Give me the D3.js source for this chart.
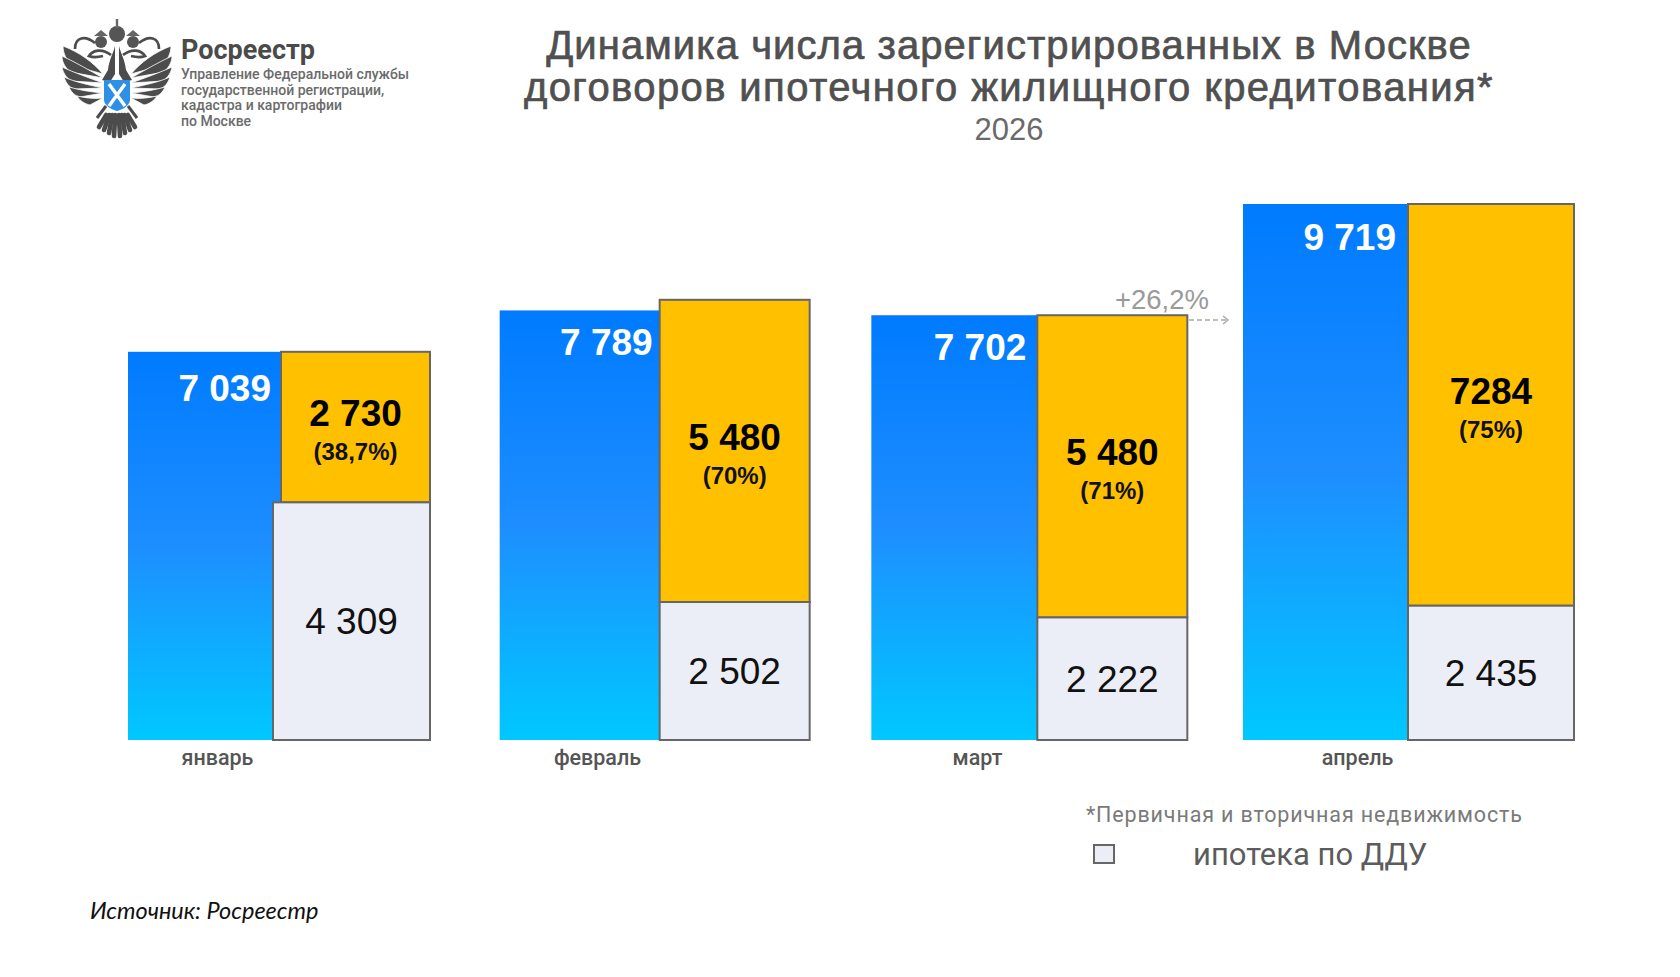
<!DOCTYPE html>
<html lang="ru">
<head>
<meta charset="utf-8">
<title>Динамика договоров ипотечного жилищного кредитования</title>
<script src="https://cdn.jsdelivr.net/npm/d3@7/dist/d3.min.js"></script>
<style>
  html, body { margin: 0; background: #fff; }
  svg { display: block; }
  text { font-family: "Liberation Sans", Arial, sans-serif; }
</style>
</head>
<body>
<svg id="chart" width="1680" height="977"></svg>
<script>
// Monthly registrations; segment values are the ones printed on each bar.
const months = ["январь", "февраль", "март", "апрель"];
const totals = [7039, 7789, 7702, 9719];
const totalLabels = ["7 039", "7 789", "7 702", "9 719"];
const dduValues = [4309, 2502, 2222, 2435];
const dduLabels = ["4 309", "2 502", "2 222", "2 435"];
const otherValues = [2730, 5480, 5480, 7284];
const otherLabels = ["2 730", "5 480", "5 480", "7284"];
const shareLabels = ["(38,7%)", "(70%)", "(71%)", "(75%)"];

// Horizontal placement of the overlapping boxes, relative to each blue bar.
const blueWidth = 206;
const otherStart = [153, 160, 166, 165];
const dduStart = [145, 160, 166, 165];
const boxEnd = [302, 310, 316, 331];
const totalLabelEnd = [143, 153, 155, 153];
const totalLabelDrop = [49, 45, 45, 46];

const svg = d3.select("#chart");
const baseY = 740;

const y = d3.scaleLinear().domain([0, 9719]).range([baseY, 204]);
const xBar = d3.scalePoint().domain(months).range([128, 1243]);
const xAxis = d3.scalePoint().domain(months).range([217, 1357]);

const defs = svg.append("defs");
const grad = defs.append("linearGradient")
  .attr("id", "blueFade").attr("x1", 0).attr("y1", 0).attr("x2", 0).attr("y2", 1);
grad.append("stop").attr("offset", "0%").attr("stop-color", "#007bff");
grad.append("stop").attr("offset", "50%").attr("stop-color", "#1e8eff");
grad.append("stop").attr("offset", "100%").attr("stop-color", "#00c8ff");

// Emblem: one wing is drawn and mirrored around the central axis.
const emblem = svg.append("g").attr("transform", "translate(117,0)");
const wingFeathers = [
  "M14 74 C24 62 38 52 54 46 C54 54 50 60 46 65 Z",
  "M14 78 C28 70 42 62 55 56 C55 63 51 68 47 72 Z",
  "M14 83 C28 78 44 72 55 67 C54 73 51 77 46 81 Z",
  "M14 88 C28 85 42 82 53 77 C51 83 48 87 43 89 Z",
  "M14 93 C26 92 38 90 48 87 C46 92 42 96 37 97 Z",
  "M14 98 C23 99 32 98 40 96 C37 101 32 104 27 105 Z"
];
[1, -1].forEach(side => {
  const wing = emblem.append("g").attr("transform", `scale(${side},1)`);
  wing.selectAll("path.feather").data(wingFeathers).join("path")
    .attr("class", "feather").attr("d", d => d)
    .attr("fill", "#4c4c4c").attr("stroke", "#fff").attr("stroke-width", 0.8);
  // Neck and head
  wing.append("path")
    .attr("d", "M2 46 C4 54 8 60 9 70 L15 80 L7 82 L2 74 Z")
    .attr("fill", "#4c4c4c");
  wing.append("path")
    .attr("d", "M6 55 C15 48 24 50 28 56 C23 58 18 57 14 56")
    .attr("fill", "none").attr("stroke", "#4c4c4c").attr("stroke-width", 2.8);
  // Side crown and its band
  wing.append("circle").attr("cx", 16).attr("cy", 42).attr("r", 6).attr("fill", "#555");
  wing.append("path").attr("d", "M9 36 L23 36 L16 30 Z").attr("fill", "#666");
  wing.append("path")
    .attr("d", "M22 43 C32 35 42 37 42 49")
    .attr("fill", "none").attr("stroke", "#4c4c4c").attr("stroke-width", 2.6);
  // Tail
  [3, 8, 13, 18].forEach((dx, i) => {
    wing.append("line")
      .attr("x1", dx * 0.6).attr("y1", 115)
      .attr("x2", dx).attr("y2", 136 - i * 3)
      .attr("stroke", "#4c4c4c").attr("stroke-width", 4.6).attr("stroke-linecap", "round");
  });
  wing.append("line").attr("x1", 11).attr("y1", 106).attr("x2", 20).attr("y2", 118)
    .attr("stroke", "#4c4c4c").attr("stroke-width", 3);
});
emblem.append("circle").attr("cx", 0).attr("cy", 34).attr("r", 8).attr("fill", "#555");
emblem.append("line").attr("x1", 0).attr("y1", 19).attr("x2", 0).attr("y2", 28)
  .attr("stroke", "#666").attr("stroke-width", 2.4);
emblem.append("path").attr("d", "M-13 80 H13 V100 C13 106 4 110 0 111 C-4 110 -13 106 -13 100 Z")
  .attr("fill", "#2e8fe6");
emblem.append("path").attr("d", "M-8 84 L8 106 M8 84 L-8 106")
  .attr("stroke", "#fff").attr("stroke-width", 3.4).attr("fill", "none");

// Agency name block
svg.append("text").attr("x", 181).attr("y", 59)
  .style("font-family", "Roboto").style("font-weight", 700)
  .attr("font-size", 27).attr("fill", "#4a4a4a").text("Росреестр");
const agencyLines = [
  ["Управление Федеральной службы", 79],
  ["государственной регистрации,", 95],
  ["кадастра и картографии", 110],
  ["по Москве", 126]
];
svg.append("g").selectAll("text").data(agencyLines).join("text")
  .attr("x", 181).attr("y", d => d[1])
  .style("font-family", "Roboto").style("font-weight", 500)
  .attr("font-size", 14).attr("fill", "#6b6b6b").text(d => d[0]);

// Title
const titleLines = [
  ["Динамика числа зарегистрированных в Москве", 59, 1.07],
  ["договоров ипотечного жилищного кредитования*", 101, 1.4]
];
svg.append("g").selectAll("text").data(titleLines).join("text")
  .attr("x", 1009).attr("y", d => d[1]).attr("text-anchor", "middle")
  .style("letter-spacing", d => d[2] + "px")
  .attr("font-size", 40).attr("fill", "#505050")
  .attr("stroke", "#505050").attr("stroke-width", 0.7).text(d => d[0]);
svg.append("text").attr("x", 1009).attr("y", 140).attr("text-anchor", "middle")
  .attr("font-size", 31).attr("fill", "#6a6a6a").text("2026");

// Bars
const rows = months.map((m, i) => ({
  m, i,
  total: totals[i], ddu: dduValues[i], other: otherValues[i],
  left: xBar(m)
}));

const bars = svg.append("g").selectAll("g").data(rows).join("g");

bars.append("rect")
  .attr("x", d => d.left).attr("y", d => y(d.total))
  .attr("width", blueWidth).attr("height", d => baseY - y(d.total))
  .attr("fill", "url(#blueFade)");

bars.append("rect")
  .attr("x", d => d.left + otherStart[d.i])
  .attr("y", d => y(d.ddu + d.other))
  .attr("width", d => boxEnd[d.i] - otherStart[d.i])
  .attr("height", d => y(d.ddu) - y(d.ddu + d.other))
  .attr("fill", "#ffc000").attr("stroke", "#666").attr("stroke-width", 2);

bars.append("rect")
  .attr("x", d => d.left + dduStart[d.i])
  .attr("y", d => y(d.ddu))
  .attr("width", d => boxEnd[d.i] - dduStart[d.i])
  .attr("height", d => baseY - y(d.ddu))
  .attr("fill", "#ebeef6").attr("stroke", "#666").attr("stroke-width", 2);

bars.append("text")
  .attr("x", d => d.left + totalLabelEnd[d.i])
  .attr("y", d => y(d.total) + totalLabelDrop[d.i])
  .attr("text-anchor", "end").attr("font-size", 37).attr("font-weight", 700)
  .attr("fill", "#fff").text(d => totalLabels[d.i]);

const otherCentre = d => d.left + (otherStart[d.i] + boxEnd[d.i]) / 2;
const otherMid = d => (y(d.ddu) + y(d.ddu + d.other)) / 2;

bars.append("text")
  .attr("x", otherCentre).attr("y", d => otherMid(d) - 1)
  .attr("text-anchor", "middle").attr("font-size", 37).attr("font-weight", 700)
  .attr("fill", "#000").text(d => otherLabels[d.i]);

bars.append("text")
  .attr("x", otherCentre).attr("y", d => otherMid(d) + 33)
  .attr("text-anchor", "middle").attr("font-size", 24).attr("font-weight", 700)
  .attr("fill", "#111").text(d => shareLabels[d.i]);

bars.append("text")
  .attr("x", d => d.left + (dduStart[d.i] + boxEnd[d.i]) / 2)
  .attr("y", d => (y(d.ddu) + baseY) / 2 + 13)
  .attr("text-anchor", "middle").attr("font-size", 37)
  .attr("fill", "#111").text(d => dduLabels[d.i]);

// Month labels
const axis = svg.append("g").attr("transform", `translate(0,${baseY})`)
  .call(d3.axisBottom(xAxis).tickSize(0).tickPadding(10));
axis.select(".domain").remove();
axis.selectAll("text")
  .style("font-family", "Roboto").style("font-weight", 500)
  .attr("font-size", 21.5).attr("fill", "#555");

// Growth note between March and April
svg.append("text").attr("x", 1162).attr("y", 309).attr("text-anchor", "middle")
  .attr("font-size", 27.5).attr("fill", "#9a9a9a").text("+26,2%");
svg.append("path").attr("d", "M1189 320 H1227")
  .attr("stroke", "#aaa").attr("stroke-width", 1.4).attr("stroke-dasharray", "5 3").attr("fill", "none");
svg.append("path").attr("d", "M1223 316 L1228 320 L1223 324")
  .attr("stroke", "#aaa").attr("stroke-width", 1.4).attr("fill", "none");

// Footnote and legend
svg.append("text").attr("x", 1086).attr("y", 822)
  .style("font-family", "Roboto").style("letter-spacing", "0.85px")
  .attr("font-size", 21.5).attr("fill", "#7a7a7a").text("*Первичная и вторичная недвижимость");
svg.append("rect").attr("x", 1094).attr("y", 845).attr("width", 20).attr("height", 18)
  .attr("fill", "#ebeef6").attr("stroke", "#666").attr("stroke-width", 2);
svg.append("text").attr("x", 1193).attr("y", 865)
  .style("font-family", "Roboto")
  .attr("font-size", 31).attr("fill", "#5c5c5c").text("ипотека по ДДУ");

// Source line
svg.append("text").attr("x", 90).attr("y", 919)
  .style("font-family", "Lato").style("font-style", "italic")
  .attr("font-size", 23.5).attr("fill", "#111").text("Источник: Росреестр");
</script>
</body>
</html>
